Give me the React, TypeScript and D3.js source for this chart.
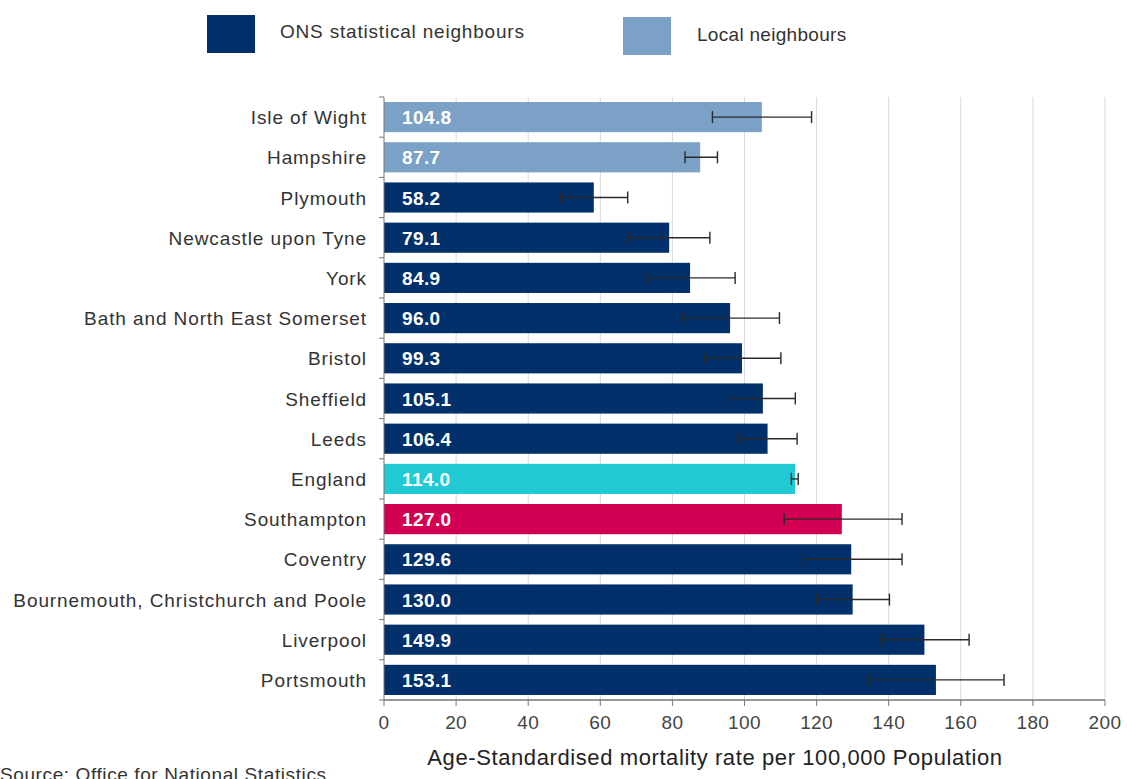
import React from "react";
import * as d3 from "d3";

const areas = [
  "Isle of Wight",
  "Hampshire",
  "Plymouth",
  "Newcastle upon Tyne",
  "York",
  "Bath and North East Somerset",
  "Bristol",
  "Sheffield",
  "Leeds",
  "England",
  "Southampton",
  "Coventry",
  "Bournemouth, Christchurch and Poole",
  "Liverpool",
  "Portsmouth",
];
const rates = [104.8, 87.7, 58.2, 79.1, 84.9, 96.0, 99.3, 105.1, 106.4, 114.0, 127.0, 129.6, 130.0, 149.9, 153.1];
const lowerCI = [91.1, 83.5, 49.0, 67.8, 72.7, 82.9, 88.8, 96.4, 98.4, 113.0, 111.0, 116.3, 120.0, 137.8, 134.5];
const upperCI = [118.6, 92.5, 67.6, 90.4, 97.4, 109.7, 110.1, 114.1, 114.6, 114.9, 143.7, 143.7, 140.2, 162.3, 172.0];
const groups = [
  "local", "local", "ons", "ons", "ons", "ons", "ons", "ons", "ons",
  "england", "southampton", "ons", "ons", "ons", "ons",
];
const xTicks = [0, 20, 40, 60, 80, 100, 120, 140, 160, 180, 200];

const colours: Record<string, string> = {
  ons: "#02306b",
  local: "#7ba1c7",
  england: "#20c9d4",
  southampton: "#d20052",
};

const W = 1127;
const H = 779;
const left = 384;
const right = 1105;
const top = 97;
const bottom = 700;
const font = "'Liberation Sans', Arial, sans-serif";

export default function App() {
  const x = d3.scaleLinear().domain([0, 200]).range([left, right]);
  const y = d3.scaleBand<string>().domain(areas).range([top, bottom]).paddingInner(0.25).paddingOuter(0.125);
  const step = y.step();
  const bh = y.bandwidth();

  return (
    <svg width={W} height={H} style={{ position: "absolute", left: 0, top: 0, background: "#fff" }}>
      {/* legend */}
      <rect x={207} y={15} width={48} height={38} fill={colours.ons} />
      <text x={280} y={38} fontFamily={font} fontSize={19} letterSpacing={0.8} fill="#333">ONS statistical neighbours</text>
      <rect x={623} y={17} width={48} height={38} fill={colours.local} />
      <text x={697} y={41} fontFamily={font} fontSize={19} letterSpacing={0.3} fill="#333">Local neighbours</text>

      {/* grid */}
      {xTicks.filter((t) => t > 0).map((t) => (
        <line key={t} x1={x(t)} x2={x(t)} y1={top} y2={bottom} stroke="#d9d9d9" strokeWidth={1} />
      ))}

      {/* bars */}
      {areas.map((a, i) => (
        <rect key={a} x={x(0)} y={y(a)!} width={x(rates[i]) - x(0)} height={bh} fill={colours[groups[i]]} />
      ))}

      {/* error bars */}
      {areas.map((a, i) => {
        const cy = y(a)! + bh / 2;
        return (
          <g key={a} stroke="#2a2a2a" strokeWidth={1.4}>
            <line x1={x(lowerCI[i])} x2={x(upperCI[i])} y1={cy} y2={cy} />
            <line x1={x(lowerCI[i])} x2={x(lowerCI[i])} y1={cy - 6} y2={cy + 6} />
            <line x1={x(upperCI[i])} x2={x(upperCI[i])} y1={cy - 6} y2={cy + 6} />
          </g>
        );
      })}

      {/* value labels */}
      {areas.map((a, i) => (
        <text key={a} x={x(0) + 18} y={y(a)! + bh / 2 + 7} fontFamily={font} fontSize={19} fontWeight="bold" letterSpacing={0.4} fill="#fff">
          {rates[i].toFixed(1)}
        </text>
      ))}

      {/* y axis */}
      <line x1={left} x2={left} y1={top} y2={bottom} stroke="#777" />
      {d3.range(areas.length + 1).map((k) => (
        <line key={k} x1={left - 5} x2={left} y1={top + k * step} y2={top + k * step} stroke="#777" />
      ))}
      {areas.map((a) => (
        <text key={a} x={367} y={y(a)! + bh / 2 + 7} textAnchor="end" fontFamily={font} fontSize={19} letterSpacing={0.9} fill="#333">
          {a}
        </text>
      ))}

      {/* x axis */}
      <line x1={left} x2={right} y1={bottom} y2={bottom} stroke="#777" strokeWidth={1.5} />
      {xTicks.map((t) => (
        <g key={t}>
          <line x1={x(t)} x2={x(t)} y1={bottom} y2={bottom + 6} stroke="#777" />
          <text x={x(t)} y={bottom + 29} textAnchor="middle" fontFamily={font} fontSize={19} letterSpacing={0.4} fill="#444">{t}</text>
        </g>
      ))}
      <text x={715} y={765} textAnchor="middle" fontFamily={font} fontSize={22} letterSpacing={0.6} fill="#222">
        Age-Standardised mortality rate per 100,000 Population
      </text>

      <text x={0} y={781} fontFamily={font} fontSize={19} letterSpacing={0.6} fill="#333">Source: Office for National Statistics</text>
    </svg>
  );
}
